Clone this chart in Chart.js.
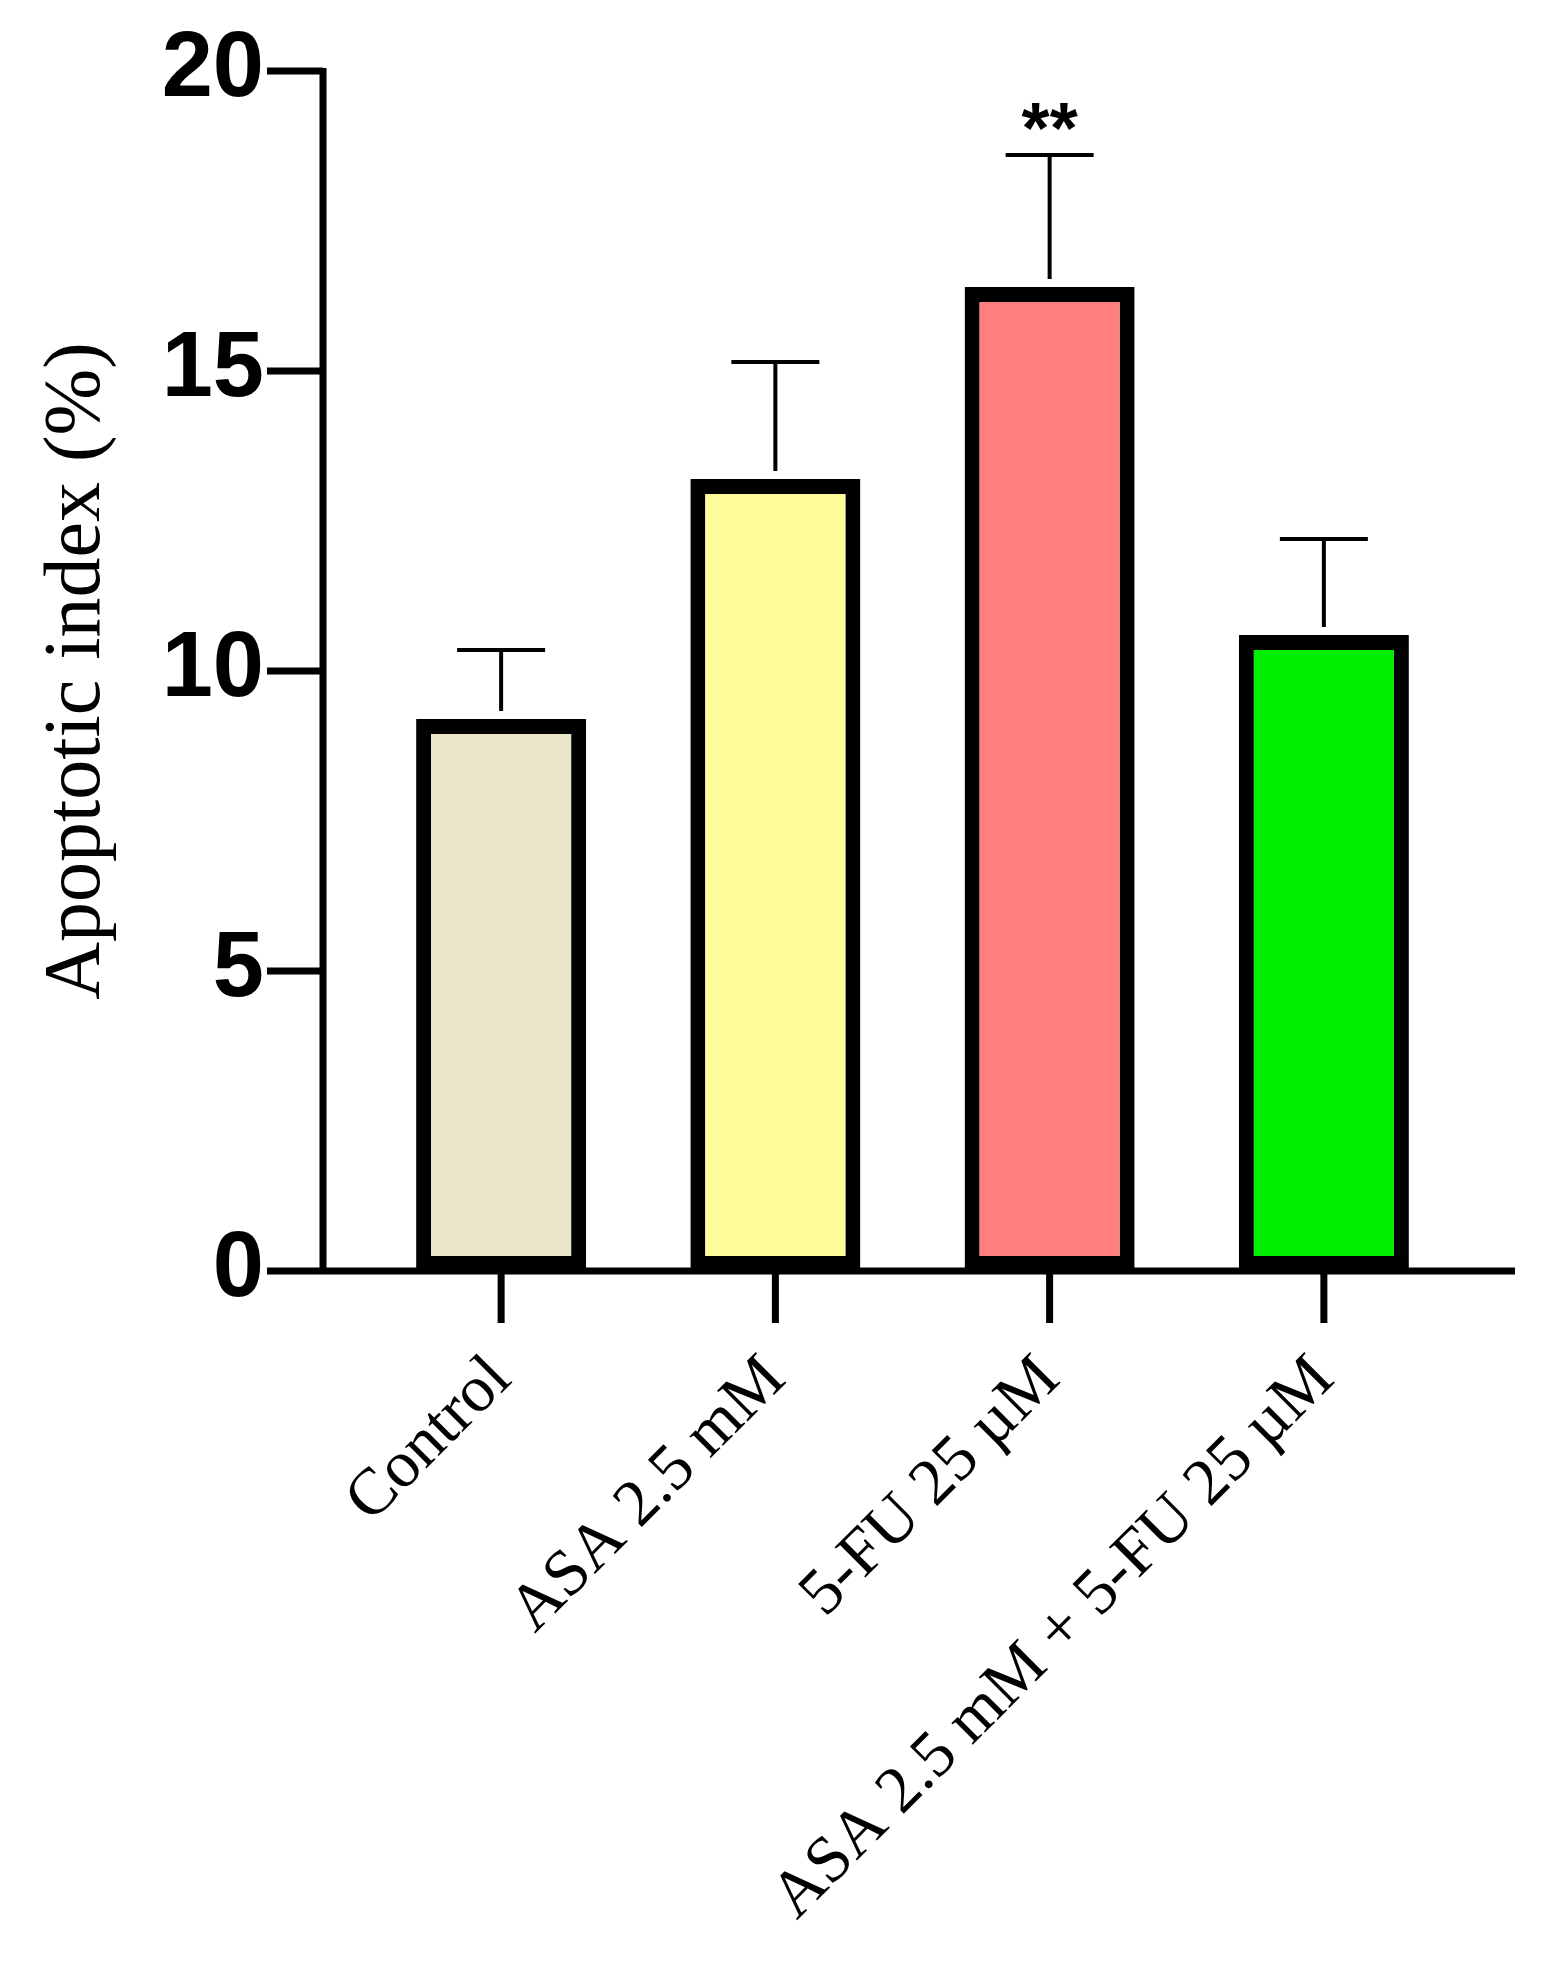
<!DOCTYPE html>
<html>
<head>
<meta charset="utf-8">
<script src="https://cdn.jsdelivr.net/npm/chart.js@4"></script>
<style>
  html, body { margin: 0; padding: 0; background: #fff; }
  #wrap { width: 1564px; height: 1980px; }
</style>
</head>
<body>
<div id="wrap"><canvas id="chart" width="1564" height="1980"></canvas></div>
<script>
// Chart data
const groups = ["Control", "ASA 2.5 mM", "5-FU 25 µM", "ASA 2.5 mM + 5-FU 25 µM"];
const means = [9.2, 13.2, 16.4, 10.6];
const errors = [1.15, 1.95, 2.2, 1.6];
const marks = ["", "", "**", ""];
const yTicks = [0, 5, 10, 15, 20];
const fills = ["#EAE4C8", "#FEFD9A", "#FF7F7F", "#00EE00"];

// axes, tick marks, error bars and significance stars
const decorations = {
  id: "decorations",
  afterDatasetsDraw(chart) {
    const { ctx, scales: { x, y }, chartArea } = chart;
    const y0 = y.getPixelForValue(0);
    const axisLeft = chartArea.left - 41;
    ctx.save();
    ctx.strokeStyle = "#000";
    ctx.lineCap = "butt";

    // error bars
    ctx.lineWidth = 4;
    means.forEach((m, i) => {
      const cx = x.getPixelForValue(i);
      const top = y.getPixelForValue(m + errors[i]);
      const base = y.getPixelForValue(m);
      ctx.beginPath();
      ctx.moveTo(cx, base - 8);
      ctx.lineTo(cx, top);
      ctx.moveTo(cx - 44, top);
      ctx.lineTo(cx + 44, top);
      ctx.stroke();
      if (marks[i]) {
        ctx.fillStyle = "#000";
        ctx.font = "bold 72px 'Liberation Sans'";
        ctx.textAlign = "center";
        ctx.textBaseline = "alphabetic";
        ctx.fillText(marks[i], cx, top - 2);
      }
    });

    // axes
    ctx.lineWidth = 7;
    ctx.beginPath();
    ctx.moveTo(axisLeft, y.getPixelForValue(20) - 3);
    ctx.lineTo(axisLeft, y0);
    ctx.moveTo(axisLeft - 3, y0);
    ctx.lineTo(chartArea.right + 54, y0);
    yTicks.forEach((t) => {
      const py = y.getPixelForValue(t);
      ctx.moveTo(axisLeft - 56, py);
      ctx.lineTo(axisLeft, py);
    });
    groups.forEach((g, i) => {
      const px = x.getPixelForValue(i);
      ctx.moveTo(px, y0);
      ctx.lineTo(px, y0 + 52);
    });
    ctx.stroke();
    ctx.restore();
  },
};

new Chart(document.getElementById("chart"), {
  type: "bar",
  data: {
    labels: groups,
    datasets: [
      {
        data: means,
        backgroundColor: fills,
        borderColor: "#000",
        borderWidth: 15,
        borderSkipped: false,
        barPercentage: 0.62,
        categoryPercentage: 1,
      },
    ],
  },
  options: {
    responsive: false,
    animation: false,
    layout: { padding: { top: 71, right: 103, left: 0, bottom: 0 } },
    plugins: { legend: { display: false }, tooltip: { enabled: false } },
    scales: {
      x: {
        border: { display: false },
        grid: { display: false, drawTicks: false },
        afterFit: (s) => {
          s.height = 709;
          s.paddingLeft = 0;
          s.paddingRight = 0;
        },
        ticks: {
          color: "#000",
          padding: 70,
          minRotation: 45,
          maxRotation: 45,
          autoSkip: false,
          font: { family: "'Liberation Serif'", size: 66 },
        },
      },
      y: {
        min: 0,
        max: 20,
        border: { display: false },
        grid: { display: false, drawTicks: false },
        afterFit: (s) => {
          s.width = 364;
          s.paddingTop = 0;
          s.paddingBottom = 0;
        },
        afterBuildTicks: (s) => { s.ticks = yTicks.map((v) => ({ value: v })); },
        ticks: {
          color: "#000",
          padding: 100,
          font: { family: "'Liberation Sans'", weight: "bold", size: 92 },
        },
        title: {
          display: true,
          text: "Apoptotic index (%)",
          color: "#000",
          padding: { top: 30, bottom: 0 },
          font: { family: "'Liberation Serif'", size: 80 },
        },
      },
    },
  },
  plugins: [decorations],
});
</script>
</body>
</html>
